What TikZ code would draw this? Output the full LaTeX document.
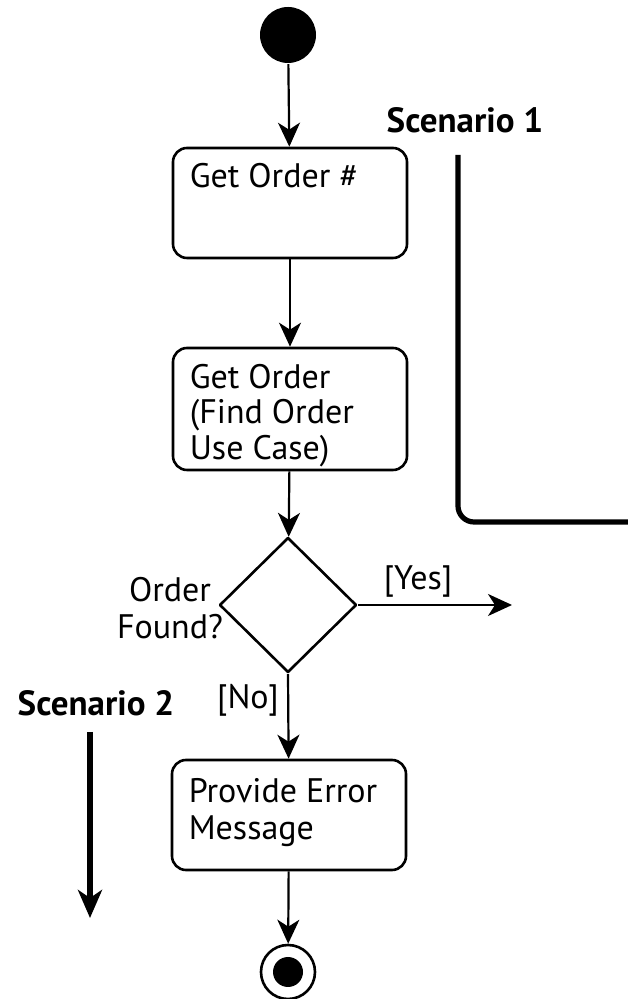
\documentclass[tikz,border=0pt]{standalone}
\usepackage{fontspec}
\setmainfont{PT Sans}
\usetikzlibrary{arrows.meta,shapes.geometric}

\begin{document}
\begin{tikzpicture}[>={Stealth[length=12bp,width=11bp,inset=3.5bp]},line join=bevel, line width=1.1bp,
  act/.style={draw,line width=1.3bp,rounded corners=7bp,minimum width=117bp,minimum height=55bp,inner sep=0pt},
  acttext/.style={anchor=north west,align=left,inner sep=0pt,xshift=8.5bp,yshift=-8bp,
    font=\fontsize{17bp}{17.8bp}\selectfont},
  guard/.style={inner sep=0pt,font=\fontsize{17bp}{18.5bp}\selectfont},
  scen/.style={inner sep=0pt,font=\fontsize{17.5bp}{19bp}\selectfont\bfseries},
  thick arrow/.style={line width=2.6bp,-{Stealth[length=14bp,width=12bp,inset=4bp]}}]
\useasboundingbox (0bp,0bp) rectangle (314bp,499.5bp);
%%
\node (start) at (144.0bp,482.0bp) [circle,fill,minimum size=28bp,inner sep=0pt] {};
  \node (getnum) at (145.0bp,398.0bp) [act] {};
  \node (getorder) at (145.0bp,295.0bp) [act,minimum height=61bp] {};
  \node (found) at (144.0bp,197.0bp) [draw,diamond,line width=1.3bp,minimum width=68.5bp,minimum height=67.5bp,inner sep=0pt] {};
  \node (error) at (144.5bp,92.0bp) [act] {};
  \node (final) at (144.0bp,13.5bp) [draw,circle,line width=1.3bp,minimum size=27bp,inner sep=0pt] {};
  \node (finaldot) at (final) [circle,fill,minimum size=15bp,inner sep=0pt] {};
%
  \node (getnumtxt) at (getnum.north west) [acttext] {Get Order \#};
  \node (getordertxt) at (getorder.north west) [acttext] {Get Order\\(Find Order\\Use Case)};
  \node (errortxt) at (error.north west) [acttext,yshift=-1.5bp,font=\fontsize{17bp}{18.5bp}\selectfont] {Provide Error\\Message};
  \node (foundtxt) at (85.0bp,195.5bp) [guard,align=center] {Order\\Found?};
  \node (yes) at (209.0bp,208.5bp) [guard] {[Yes]};
  \node (no) at (124.0bp,149.5bp) [guard] {[No]};
  \node (scen1) at (232.5bp,439.5bp) [scen] {Scenario 1};
  \node (scen2) at (48.0bp,148.0bp) [scen] {Scenario 2};
%
  \coordinate (yesend) at (256.0bp,197.0bp);
  \coordinate (s1top) at (229.0bp,422.0bp);
  \coordinate (s1end) at (314.0bp,238.5bp);
  \coordinate (s2top) at (45.0bp,133.5bp);
  \coordinate (s2end) at (45.0bp,40.5bp);
%
  \draw [->] (start) -- (getnum);
  \draw [->] (getnum) -- (getorder);
  \draw [->] (getorder) -- (found);
  \draw [->] (found.east) -- (yesend);
  \draw [->] (found.south) -- (error);
  \draw [->] (error) -- (final);
  \draw [line width=2.6bp,rounded corners=8bp] (s1top) |- (s1end);
  \draw [thick arrow] (s2top) -- (s2end);
%
\end{tikzpicture}
\end{document}
